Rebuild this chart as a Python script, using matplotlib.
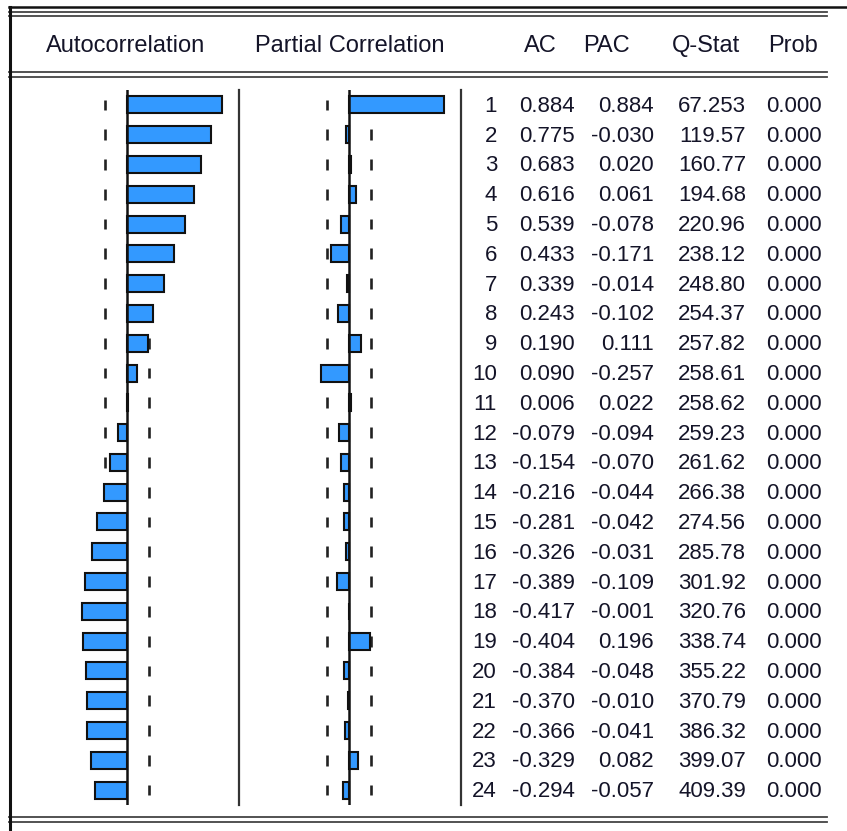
import matplotlib
matplotlib.use("Agg")
import matplotlib.pyplot as plt
from matplotlib.lines import Line2D
import numpy as np

plt.rcParams['font.family'] = ['Liberation Sans', 'DejaVu Sans']

# ---------------- data ----------------
lags = list(range(1, 25))
ac = [0.884, 0.775, 0.683, 0.616, 0.539, 0.433, 0.339, 0.243, 0.190, 0.090,
      0.006, -0.079, -0.154, -0.216, -0.281, -0.326, -0.389, -0.417, -0.404,
      -0.384, -0.370, -0.366, -0.329, -0.294]
pac = [0.884, -0.030, 0.020, 0.061, -0.078, -0.171, -0.014, -0.102, 0.111,
       -0.257, 0.022, -0.094, -0.070, -0.044, -0.042, -0.031, -0.109, -0.001,
       0.196, -0.048, -0.010, -0.041, 0.082, -0.057]
qstat = [67.253, 119.57, 160.77, 194.68, 220.96, 238.12, 248.80, 254.37,
         257.82, 258.61, 258.62, 259.23, 261.62, 266.38, 274.56, 285.78,
         301.92, 320.76, 338.74, 355.22, 370.79, 386.32, 399.07, 409.39]
prob = [0.000] * 24
headers = ["Autocorrelation", "Partial Correlation", "AC", "PAC", "Q-Stat", "Prob"]
conf_band = 0.204

# ---------------- layout ----------------
W, H = 847, 831
fig = plt.figure(figsize=(W / 100, H / 100), dpi=100)
fig.patch.set_facecolor("white")

def fx(px):
    return px / W

def fy(py):
    return 1 - py / H

y_top, y_bot = 90, 805
BAR_COLOR = "#3399ff"
FS_NUM = 16
FS_HDR = 17
TXT_COLOR = "#141428"

def make_panel(x0, x1):
    ax = fig.add_axes([fx(x0), fy(y_bot), fx(x1) - fx(x0), (y_bot - y_top) / H])
    ax.set_facecolor("none")
    ax.set_xlim(-1.037, 1.037)
    ax.set_ylim(24.5, 0.5)
    for s in ["top", "bottom", "left"]:
        ax.spines[s].set_visible(False)
    ax.spines["right"].set_color("#333333")
    ax.spines["right"].set_linewidth(1.6)
    ax.set_xticks([])
    ax.set_yticks([])
    return ax

def draw_corr(ax, vals):
    y = np.array(lags)
    ax.vlines([-conf_band] * len(y), y - 0.18, y + 0.18, colors="#222222",
              linewidth=1.9, zorder=1)
    ax.vlines([conf_band] * len(y), y - 0.18, y + 0.18, colors="#222222",
              linewidth=1.9, zorder=1)
    ax.barh(y, vals, height=0.57, left=0, color=BAR_COLOR, edgecolor="#111111",
            linewidth=1.5, zorder=2)
    ax.axvline(0, color="#111111", linewidth=1.8, zorder=3)

ax_acf = make_panel(15, 239)
draw_corr(ax_acf, ac)
ax_pac = make_panel(237, 461)
draw_corr(ax_pac, pac)

# table axes sharing row scale
ax_t = fig.add_axes([fx(461), fy(y_bot), fx(W) - fx(461), (y_bot - y_top) / H])
ax_t.set_xlim(461, W)
ax_t.set_ylim(24.5, 0.5)
ax_t.axis("off")

col_right = [497, 575, 654, 746, 822]
for i, lag in enumerate(lags):
    q = qstat[i]
    qs = f"{q:.3f}" if q < 100 else f"{q:.2f}"
    cells = [str(lag), f"{ac[i]:.3f}", f"{pac[i]:.3f}", qs, f"{prob[i]:.3f}"]
    for xr, s in zip(col_right, cells):
        ax_t.text(xr, lag + 0.05, s, ha="right", va="center", fontsize=FS_NUM,
                  color=TXT_COLOR)

# headers
hdr_x = [126, 350, 540, 606, 706, 793]
for hx, h in zip(hdr_x, headers):
    fig.text(fx(hx), fy(46), h, ha="center", va="center", fontsize=FS_HDR,
             color=TXT_COLOR)

# frame / rule lines
def hline(py, x0, x1, color, lw):
    fig.add_artist(Line2D([fx(x0), fx(x1)], [fy(py), fy(py)], color=color,
                          linewidth=lw, transform=fig.transFigure))

hline(7, 9, W, "#111111", 1.8)
for py in (11.5, 15.5, 72, 76.5, 817, 822):
    hline(py, 9, 827, "#444444", 1.3)
fig.add_artist(Line2D([fx(9.5), fx(9.5)], [fy(7), fy(H)], color="#111111",
                      linewidth=2.2, transform=fig.transFigure))

fig.savefig("out.png", dpi=100, facecolor="white")
